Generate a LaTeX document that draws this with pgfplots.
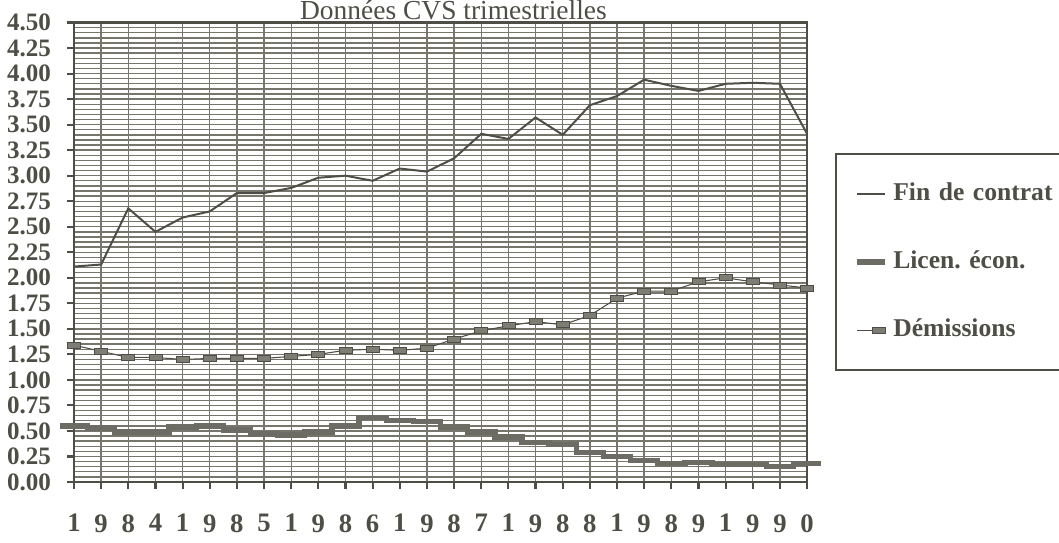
\documentclass[border=0pt]{standalone}
\usepackage{fontspec}
\setmainfont{Liberation Serif}
\usepackage{pgfplots}
\pgfplotsset{compat=1.18}
\definecolor{ink}{RGB}{78,78,70}
\definecolor{gridc}{RGB}{118,118,108}
\definecolor{markc}{RGB}{125,125,116}
\definecolor{licc}{RGB}{108,108,100}
\pgfplotsset{legend image code/.code={\draw[#1] (0cm,0cm) -- (0.37cm,0cm);}}

\pgfplotstableread{
i fin dem lic
0  2.11 1.34 0.55
1  2.13 1.28 0.53
2  2.68 1.22 0.49
3  2.45 1.22 0.49
4  2.59 1.20 0.54
5  2.65 1.21 0.55
6  2.83 1.21 0.51
7  2.83 1.21 0.47
8  2.88 1.23 0.46
9  2.98 1.25 0.49
10 3.00 1.29 0.55
11 2.95 1.30 0.63
12 3.07 1.29 0.60
13 3.04 1.31 0.59
14 3.17 1.40 0.54
15 3.41 1.48 0.49
16 3.36 1.53 0.44
17 3.57 1.57 0.39
18 3.40 1.54 0.37
19 3.69 1.63 0.29
20 3.78 1.80 0.25
21 3.94 1.87 0.21
22 3.88 1.87 0.18
23 3.83 1.96 0.19
24 3.90 2.00 0.17
25 3.91 1.96 0.17
26 3.90 1.93 0.15
27 3.41 1.90 0.18
}\datatable

\begin{document}
\frenchspacing
\begin{tikzpicture}
\begin{axis}[
  scale only axis, width=274.9pt, height=172.3pt,
  xmin=0, xmax=27, ymin=0, ymax=4.5,
  clip=false,
  xtick={0,...,27},
  xticklabels={1,9,8,4,1,9,8,5,1,9,8,6,1,9,8,7,1,9,8,8,1,9,8,9,1,9,9,0},
  ytick={0,0.25,0.5,0.75,1,1.25,1.5,1.75,2,2.25,2.5,2.75,3,3.25,3.5,3.75,4,4.25,4.5},
  minor y tick num=4,
  grid=both,
  major grid style={gridc, line width=0.5pt},
  minor grid style={gridc, line width=0.5pt},
  axis line style={ink, line width=0.8pt},
  tick style={ink, line width=0.8pt},
  tick align=outside, tickpos=left,
  major tick length=2.6pt, minor tick length=0pt,
  /pgf/number format/assume math mode=true,
  yticklabel style={/pgf/number format/fixed, /pgf/number format/fixed zerofill, /pgf/number format/precision=2,
     font=\bfseries\fontsize{9.4}{11}\selectfont, text=ink},
  yticklabel shift=2.5pt,
  xticklabel style={font=\bfseries\fontsize{10}{12}\selectfont, text=ink},
  xticklabel shift=6pt,
  legend cell align=left,
  legend style={at={(rel axis cs:1.0382,0.7162)}, anchor=north west,
     draw=ink, line width=0.6pt, text=ink,
     font=\bfseries\fontsize{9.6}{11}\selectfont,
     inner xsep=7pt, inner ysep=8.9pt, row sep=13.4pt,
     nodes={text width=80pt}},
]
\addplot[ink, line width=0.75pt] table[x=i, y=fin] {\datatable};
\addlegendentry{Fin de contrat}
\addplot[licc, line width=2pt, const plot mark mid, mark=-, mark size=5.1pt,
   mark options={line width=2pt},
   legend image code/.code={\draw[licc, line width=2pt] (0cm,0cm) -- (0.37cm,0cm);}]
   table[x=i, y=lic] {\datatable};
\addlegendentry{Licen. écon.}
\addplot[ink, line width=0.4pt, mark=square*, mark size=1.12pt,
   mark options={xscale=2.18, fill=markc, draw=ink, line width=0.3pt},
   legend image code/.code={\draw[ink, line width=0.4pt, mark=square*, mark size=1.12pt,
      mark options={xscale=2.18, fill=markc, draw=ink, line width=0.3pt},
      mark repeat=2, mark phase=2] plot coordinates {(0cm,0cm) (0.28cm,0cm) (0.37cm,0cm)};}]
   table[x=i, y=dem] {\datatable};
\addlegendentry{Démissions}
\end{axis}
\node[anchor=base, text=ink, font=\fontsize{10.3}{12}\selectfont] at (142.3pt,173.6pt) {Données CVS trimestrielles};
\pgfresetboundingbox
\path[use as bounding box] (-27.75pt,-22.5pt) rectangle (369.375pt,180.75pt);
\end{tikzpicture}
\end{document}
